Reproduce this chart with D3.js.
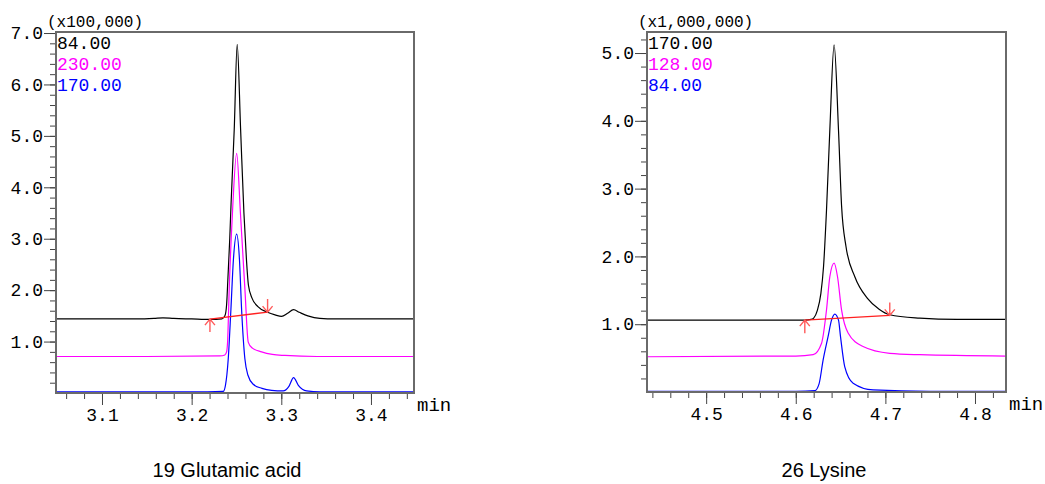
<!DOCTYPE html>
<html>
<head>
<meta charset="utf-8">
<script src="https://cdn.jsdelivr.net/npm/d3@7"></script>
<style>
  body { margin: 0; background: #fff; }
  svg { display: block; }
  .tick text { font-family: "Liberation Mono", "DejaVu Sans Mono", monospace; font-size: 18px; fill: #000; }
  .tick line { stroke: #444; }
  .mono { font-family: "Liberation Mono", "DejaVu Sans Mono", monospace; }
</style>
</head>
<body>
<svg id="chart" width="1045" height="484"></svg>
<script>
// ---- 19 Glutamic acid (x100,000) : [min, intensity]
const gluIons = ['84.00', '230.00', '170.00'];
const glu84 = [[3.049,1.44],[3.100,1.44],[3.140,1.44],[3.158,1.45],[3.168,1.46],[3.180,1.45],[3.200,1.44],
  [3.2204,1.43],[3.2338,1.44],[3.2371,1.50],[3.2390,1.72],[3.2405,2.25],[3.2425,3.00],[3.2440,3.70],
  [3.2475,5.13],[3.2508,6.78],[3.2546,5.13],[3.2583,3.50],[3.2611,2.60],[3.2633,2.10],[3.2672,1.85],
  [3.2739,1.68],[3.2847,1.57],[3.2930,1.52],[3.3003,1.49],[3.3070,1.55],[3.3137,1.62],[3.3200,1.57],
  [3.3296,1.50],[3.3430,1.45],[3.3600,1.44],[3.4000,1.44],[3.448,1.44]];
const glu230 = [[3.049,0.71],[3.150,0.71],[3.2315,0.72],[3.2370,0.74],[3.2390,0.80],[3.2401,1.00],
  [3.2419,2.02],[3.2455,3.50],[3.2502,4.66],[3.2544,3.50],[3.2594,2.02],[3.2631,0.99],[3.2672,0.88],
  [3.2780,0.80],[3.2900,0.75],[3.3040,0.73],[3.3400,0.71],[3.448,0.71]];
const glu170 = [[3.049,0.02],[3.200,0.02],[3.2352,0.03],[3.2377,0.15],[3.2408,0.66],[3.2438,1.63],
  [3.2466,2.60],[3.2502,3.09],[3.2533,2.60],[3.2557,1.63],[3.2594,0.66],[3.2627,0.35],[3.2687,0.17],
  [3.2784,0.09],[3.2892,0.05],[3.3021,0.04],[3.3085,0.13],[3.3137,0.30],[3.3190,0.15],[3.3282,0.04],
  [3.3430,0.02],[3.448,0.02]];
const gluBaseline = [[3.2204,1.437],[3.2847,1.573]];
const gluXTicks = [3.1, 3.2, 3.3, 3.4];
const gluYTicks = [1, 2, 3, 4, 5, 6, 7];

// ---- 26 Lysine (x1,000,000)
const lysIons = ['170.00', '128.00', '84.00'];
const lys170 = [[4.434,1.06],[4.550,1.06],[4.6101,1.06],[4.6170,1.07],[4.6200,1.09],[4.6240,1.20],
  [4.6280,1.45],[4.6310,1.85],[4.6343,2.68],[4.6380,3.86],[4.6428,5.12],[4.6477,3.86],[4.6511,2.75],
  [4.6560,2.15],[4.6659,1.70],[4.6800,1.38],[4.6930,1.22],[4.7049,1.14],[4.7383,1.09],[4.7800,1.07],
  [4.8346,1.07]];
const lys128 = [[4.434,0.52],[4.600,0.53],[4.6194,0.55],[4.6288,0.72],[4.6343,1.21],[4.6380,1.70],
  [4.6428,1.90],[4.6466,1.70],[4.6511,1.21],[4.6584,0.87],[4.6751,0.67],[4.7049,0.57],[4.7383,0.55],
  [4.8346,0.53]];
const lys84 = [[4.434,0.01],[4.600,0.01],[4.6213,0.02],[4.6260,0.12],[4.6305,0.47],[4.6361,0.82],
  [4.6399,1.06],[4.6436,1.15],[4.6477,1.06],[4.6499,0.82],[4.6547,0.37],[4.6640,0.13],[4.6863,0.03],
  [4.7500,0.01],[4.8346,0.01]];
const lysBaseline = [[4.6101,1.06],[4.7049,1.13]];
const lysXTicks = [4.5, 4.6, 4.7, 4.8];
const lysYTicks = [1, 2, 3, 4, 5];

const colors = ['#000000', '#ff00ff', '#0000ff'];

const svg = d3.select('#chart');

function drawPanel(p) {
  const x = d3.scaleLinear().domain(p.xDomain).range([p.left, p.right]);
  const y = d3.scaleLinear().domain(p.yDomain).range([p.bottom, p.top]);
  const g = svg.append('g');

  g.append('clipPath').attr('id', 'clip-' + p.id)
    .append('rect')
    .attr('x', p.left).attr('y', p.top)
    .attr('width', p.right - p.left).attr('height', p.bottom - p.top);

  // y axis: minor then major ticks
  g.append('g').attr('transform', `translate(${p.left},0)`)
    .call(d3.axisLeft(y).tickValues(p.yMinor).tickSize(6).tickFormat(''))
    .call(a => a.select('.domain').remove());
  g.append('g').attr('transform', `translate(${p.left},0)`)
    .call(d3.axisLeft(y).tickValues(p.yTicks).tickSize(12).tickPadding(1).tickFormat(d3.format('.1f')))
    .call(a => a.select('.domain').remove());

  // x axis
  g.append('g').attr('transform', `translate(0,${p.bottom})`)
    .call(d3.axisBottom(x).tickValues(p.xMinor).tickSize(6).tickFormat(''))
    .call(a => a.select('.domain').remove());
  g.append('g').attr('transform', `translate(0,${p.bottom})`)
    .call(d3.axisBottom(x).tickValues(p.xTicks).tickSize(12).tickPadding(3).tickFormat(d3.format('.1f')))
    .call(a => a.select('.domain').remove());

  // traces
  const line = d3.line().x(d => x(d[0])).y(d => y(d[1])).curve(d3.curveMonotoneX);
  const traces = g.append('g').attr('clip-path', `url(#clip-${p.id})`);
  p.series.forEach((s, i) => {
    traces.append('path').datum(s)
      .attr('d', line)
      .attr('fill', 'none')
      .attr('stroke', colors[i])
      .attr('stroke-width', 1.2);
  });

  // integration baseline with arrows
  traces.append('path').datum(p.baseline)
    .attr('d', d3.line().x(d => x(d[0])).y(d => y(d[1])))
    .attr('fill', 'none').attr('stroke', '#ff2020').attr('stroke-width', 1.3);
  const [b0, b1] = p.baseline;
  const ax = x(b0[0]), ay = y(b0[1]);
  const bx = x(b1[0]), by = y(b1[1]);
  g.append('path')
    .attr('d', `M${ax},${ay}L${ax},${ay + 13}M${ax - 5},${ay + 6}L${ax},${ay}L${ax + 5},${ay + 6}`
      + `M${bx},${by}L${bx},${by - 13}M${bx - 5},${by - 6}L${bx},${by}L${bx + 5},${by - 6}`)
    .attr('fill', 'none').attr('stroke', '#ff5a5a').attr('stroke-width', 1.4);

  // frame
  g.append('rect')
    .attr('x', p.left).attr('y', p.top)
    .attr('width', p.right - p.left).attr('height', p.bottom - p.top)
    .attr('fill', 'none').attr('stroke', '#6a6a6a').attr('stroke-width', 2);

  // legend
  p.ions.forEach((t, i) => {
    g.append('text').attr('class', 'mono')
      .attr('x', p.left + 1).attr('y', p.top + 17 + i * 21)
      .attr('font-size', 18).attr('fill', colors[i]).text(t);
  });

  g.append('text').attr('class', 'mono')
    .attr('x', p.left - 9).attr('y', p.top - 5)
    .attr('font-size', 16).text(p.scaleLabel);

  g.append('text').attr('class', 'mono')
    .attr('x', p.right + 3).attr('y', p.bottom + 18)
    .attr('font-size', 19).text('min');

  g.append('text')
    .attr('x', p.titleX).attr('y', 477)
    .attr('text-anchor', 'middle')
    .attr('font-family', '"Liberation Sans", Arial, sans-serif')
    .attr('font-size', 20).text(p.title);
}

drawPanel({
  id: 'glu', left: 56, right: 414, top: 32, bottom: 393,
  xDomain: [3.0487, 3.448], yDomain: [0, 7.02],
  xTicks: gluXTicks, xMinor: d3.range(3.06, 3.445, 0.02),
  yTicks: gluYTicks, yMinor: d3.range(0.2, 7.01, 0.2),
  series: [glu84, glu230, glu170], ions: gluIons,
  baseline: gluBaseline, scaleLabel: '(x100,000)',
  title: '19 Glutamic acid', titleX: 227
});

drawPanel({
  id: 'lys', left: 647, right: 1006, top: 32, bottom: 392,
  xDomain: [4.434, 4.8346], yDomain: [0, 5.31],
  xTicks: lysXTicks, xMinor: d3.range(4.44, 4.835, 0.02),
  yTicks: lysYTicks, yMinor: d3.range(0.2, 5.21, 0.2),
  series: [lys170, lys128, lys84], ions: lysIons,
  baseline: lysBaseline, scaleLabel: '(x1,000,000)',
  title: '26 Lysine', titleX: 824
});
</script>
</body>
</html>
